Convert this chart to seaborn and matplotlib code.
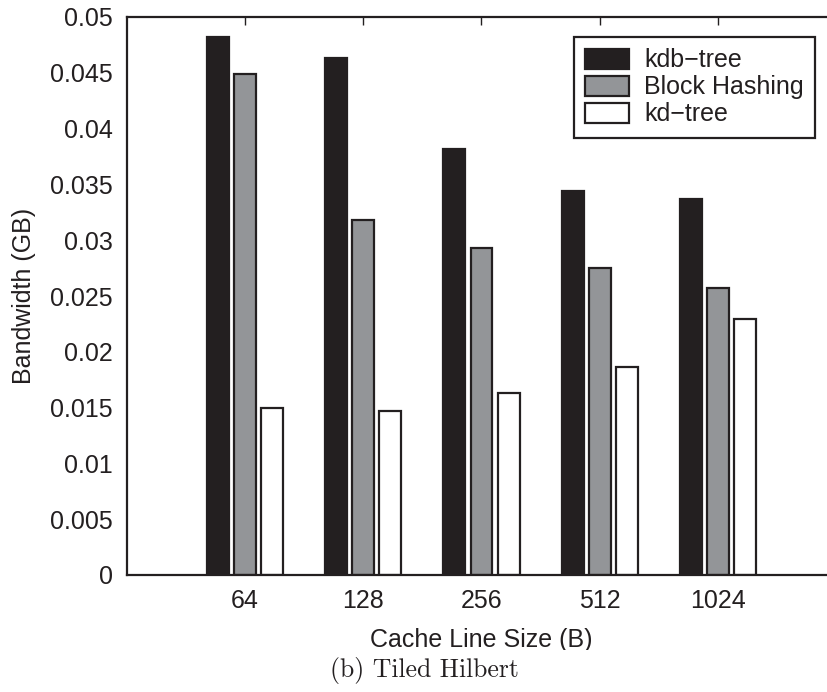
import matplotlib
matplotlib.use("Agg")
import matplotlib.pyplot as plt
import seaborn as sns
import pandas as pd
import numpy as np
from matplotlib.patches import Rectangle

# ---- data ----
categories = ["64", "128", "256", "512", "1024"]
series = ["kdb\u2212tree", "Block Hashing", "kd\u2212tree"]
kdb_tree = [0.0482, 0.0463, 0.0382, 0.0344, 0.0337]
block_hashing = [0.0449, 0.0318, 0.0293, 0.0275, 0.0257]
kd_tree = [0.0150, 0.0147, 0.0163, 0.0186, 0.0229]
ytick_values = [0, 0.005, 0.01, 0.015, 0.02, 0.025, 0.03, 0.035, 0.04, 0.045, 0.05]
ytick_labels = ["0", "0.005", "0.01", "0.015", "0.02", "0.025", "0.03", "0.035", "0.04", "0.045", "0.05"]

colors = ["#231f20", "#939598", "#ffffff"]
ink = "#231f20"

rows = []
for name, vals in zip(series, [kdb_tree, block_hashing, kd_tree]):
    for c, v in zip(categories, vals):
        rows.append({"size": c, "bw": v, "method": name})
df = pd.DataFrame(rows)

sns.set_theme(style="white")
plt.rcParams["font.family"] = ["Liberation Sans", "DejaVu Sans"]
plt.rcParams["text.color"] = ink
plt.rcParams["axes.labelcolor"] = ink
plt.rcParams["xtick.color"] = ink
plt.rcParams["ytick.color"] = ink

W, H = 828, 692
fig = plt.figure(figsize=(W / 100, H / 100), dpi=100)
ax = fig.add_axes([127 / W, 1 - 575 / H, (836 - 127) / W, (575 - 17) / H])

sns.barplot(data=df, x="size", y="bw", hue="method", order=categories,
            hue_order=series, palette=colors, width=0.687, gap=0.19,
            edgecolor=ink, linewidth=1.6, errorbar=None, ax=ax, saturation=1)

ax.set_xlim(-1, 5)
ax.set_ylim(0, 0.05)
ax.set_yticks(ytick_values)
ax.set_yticklabels(ytick_labels)
ax.set_xticks(range(len(categories)))
ax.set_xticklabels(categories)

for s in ax.spines.values():
    s.set_visible(True)
    s.set_color(ink)
    s.set_linewidth(1.6)

ax.tick_params(axis="both", which="major", direction="in", length=6, width=1,
               labelsize=18, top=True, right=True, colors=ink)
ax.tick_params(axis="y", pad=10)
ax.tick_params(axis="x", pad=10)

ax.set_xlabel("Cache Line Size (B)", fontsize=18)
ax.set_ylabel("Bandwidth (GB)", fontsize=18)
ax.xaxis.set_label_coords(0.5, (575 - 628) / 558)
ax.yaxis.set_label_coords((36 - 127) / 709, 0.5)

leg = ax.legend(loc="upper right", bbox_to_anchor=(815 / W, 1 - 37 / H),
                bbox_transform=fig.transFigure, borderaxespad=0, fontsize=18,
                frameon=True, fancybox=False, edgecolor=ink, framealpha=1,
                handlelength=1.75, handleheight=0.85, handletextpad=0.6,
                labelspacing=0.12, borderpad=0.45, title=None)
leg.get_frame().set_linewidth(1.6)

# crop band below the x label, as in the reference subfigure
fig.patches.append(Rectangle((0, 0), 1, 1 - 650 / H, transform=fig.transFigure,
                             facecolor="white", edgecolor="none", zorder=5))
fig.text(424.5 / W, 1 - 677 / H, "(b) Tiled Hilbert", family="cmr10",
         fontsize=18.5, ha="center", va="baseline", color=ink, zorder=6)

fig.savefig("out.png", dpi=100)
